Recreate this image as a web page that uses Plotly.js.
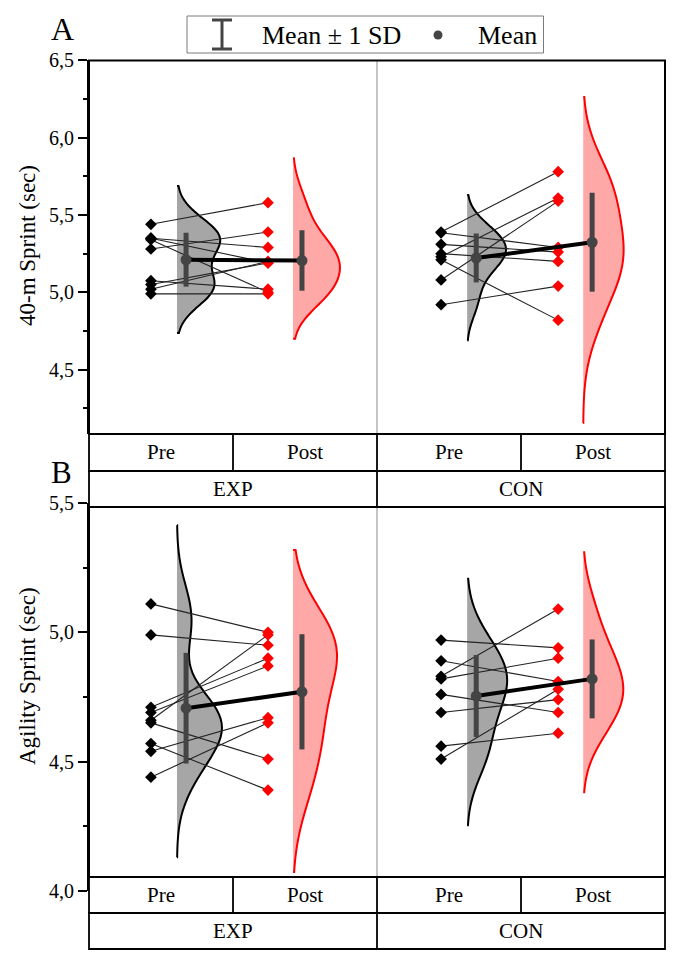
<!DOCTYPE html>
<html><head><meta charset="utf-8">
<script src="https://cdn.plot.ly/plotly-3.0.1.min.js"></script>
<style>html,body{margin:0;padding:0;background:#fff}#chart{width:685px;height:967px}</style>
</head><body><div id="chart"></div>
<script>
// ---------------- DATA ----------------
const groups = ['EXP', 'CON'];
const phases = ['Pre', 'Post'];
// Panel A: 40-m sprint (sec), paired by subject index
const sprintExpPre  = [5.44, 5.35, 5.35, 5.34, 5.28, 5.075, 5.05, 5.02, 4.99];
const sprintExpPost = [5.58, 5.29, 5.19, 5.00, 5.39, 5.02, 5.19, 5.20, 4.99];
const sprintConPre  = [5.39, 5.385, 5.31, 5.25, 5.23, 5.21, 5.08, 4.92];
const sprintConPost = [5.78, 5.29, 5.26, 5.20, 5.61, 4.82, 5.59, 5.04];
// Panel B: agility sprint (sec)
const agilityExpPre  = [5.11, 4.99, 4.71, 4.69, 4.66, 4.65, 4.57, 4.54, 4.44];
const agilityExpPost = [5.00, 4.95, 4.90, 4.87, 4.99, 4.51, 4.39, 4.67, 4.65];
const agilityConPre  = [4.97, 4.89, 4.83, 4.82, 4.76, 4.69, 4.56, 4.51];
const agilityConPost = [4.94, 4.81, 5.09, 4.90, 4.69, 4.74, 4.61, 4.78];
const panelLabels = ['A', 'B'];
const yTitles = ['40-m Sprint (sec)', 'Agility Sprint (sec)'];
const legendLabels = ['Mean \u00b1 1 SD', 'Mean'];

// ---------------- STYLE / GEOMETRY ----------------
const W = 685, H = 967;
const X = px => px / W;
const Y = py => 1 - py / H;
const FONT = "'Liberation Serif', 'Times New Roman', serif";
const preFill = 'rgb(166,166,166)', postFill = 'rgb(255,168,168)';
const meanColor = '#444444';
const groupOffset = [0, 2.015];
const slot = {preDot: 0.43, preViolin: 0.611, preMean: 0.674, postDot: 1.243, postViolin: 1.417, postMean: 1.479};
// violin widths (style) per panel/group/phase
const vWidths = [[[0.6, 0.65], [0.54, 0.56]], [[0.625, 0.61], [0.555, 0.555]]];
// KDE extents (visual style) per panel/group/phase
const spans = [
  [[[4.737, 5.687], [4.70, 5.867]], [[4.69, 5.629], [4.155, 6.263]]],
  [[[4.13, 5.414], [4.073, 5.318]], [[4.254, 5.207], [4.382, 5.31]]]
];
const panels = [
  {pre: [sprintExpPre, sprintConPre], post: [sprintExpPost, sprintConPost], xa: 'x', ya: 'y'},
  {pre: [agilityExpPre, agilityConPre], post: [agilityExpPost, agilityConPost], xa: 'x2', ya: 'y2'}
];

const mean = a => a.reduce((s, v) => s + v, 0) / a.length;
const sd = a => { const m = mean(a); return Math.sqrt(a.reduce((s, v) => s + (v - m) * (v - m), 0) / (a.length - 1)); };

const traces = [];
panels.forEach((p, pi) => {
  groups.forEach((g, gi) => {
    const off = groupOffset[gi];
    const pre = p.pre[gi], post = p.post[gi];
    // half violins
    [[pre, slot.preViolin, preFill, 'black', 0], [post, slot.postViolin, postFill, 'red', 1]].forEach(([d, pos, fc, lc, k]) => {
      traces.push({type: 'violin', xaxis: p.xa, yaxis: p.ya, x: d.map(() => pos + off), y: d,
        side: 'positive', width: vWidths[pi][gi][k], spanmode: 'manual', span: spans[pi][gi][k],
        points: false, fillcolor: fc, line: {color: lc, width: 2}, opacity: 1,
        scalemode: 'width', hoverinfo: 'skip', showlegend: false, box: {visible: false}, meanline: {visible: false}});
    });
    // paired lines
    const lx = [], ly = [];
    pre.forEach((v, i) => { lx.push(slot.preDot + off, slot.postDot + off, null); ly.push(v, post[i], null); });
    traces.push({type: 'scatter', mode: 'lines', xaxis: p.xa, yaxis: p.ya, x: lx, y: ly,
      line: {color: '#222', width: 1.1}, hoverinfo: 'skip', showlegend: false});
    traces.push({type: 'scatter', mode: 'markers', xaxis: p.xa, yaxis: p.ya, x: pre.map(() => slot.preDot + off), y: pre,
      marker: {symbol: 'diamond', size: 9, color: 'black'}, hoverinfo: 'skip', showlegend: false});
    traces.push({type: 'scatter', mode: 'markers', xaxis: p.xa, yaxis: p.ya, x: post.map(() => slot.postDot + off), y: post,
      marker: {symbol: 'diamond', size: 9, color: 'red'}, hoverinfo: 'skip', showlegend: false});
    // mean connector
    traces.push({type: 'scatter', mode: 'lines', xaxis: p.xa, yaxis: p.ya,
      x: [slot.preMean + off, slot.postMean + off], y: [mean(pre), mean(post)],
      line: {color: 'black', width: 4}, hoverinfo: 'skip', showlegend: false});
    // mean ± SD
    traces.push({type: 'scatter', mode: 'markers', xaxis: p.xa, yaxis: p.ya,
      x: [slot.preMean + off, slot.postMean + off], y: [mean(pre), mean(post)],
      error_y: {type: 'data', array: [sd(pre), sd(post)], visible: true, thickness: 5, width: 0, color: meanColor},
      marker: {symbol: 'circle', size: 11, color: meanColor}, hoverinfo: 'skip', showlegend: false});
  });
});

// ---------------- LAYOUT ----------------
const L = 89, R = 665, MID = 377, S1 = 233, S2 = 521;
const topFrame = [60.4, 434], botFrame = [507, 877];
const rows = [[434, 471, 507], [877, 913, 949]];
const shapes = [];
const rect = (x0, y0, x1, y1, c, w) => shapes.push({type: 'rect', xref: 'paper', yref: 'paper', x0: X(x0), x1: X(x1), y0: Y(y0), y1: Y(y1), line: {color: c, width: w}, layer: 'above'});
const seg = (x0, y0, x1, y1, c, w) => shapes.push({type: 'line', xref: 'paper', yref: 'paper', x0: X(x0), x1: X(x1), y0: Y(y0), y1: Y(y1), line: {color: c, width: w}, layer: 'above'});
// middle separators in plot areas
seg(MID, topFrame[0], MID, topFrame[1], '#8a8a8a', 1);
seg(MID, botFrame[0], MID, botFrame[1], '#8a8a8a', 1);
rect(L, topFrame[0], R, topFrame[1], 'black', 2);
rect(L, botFrame[0], R, botFrame[1], 'black', 2);
const annotations = [];
const txt = (t, x, y, size, extra) => annotations.push(Object.assign({text: t, xref: 'paper', yref: 'paper', x: X(x), y: Y(y), showarrow: false, xanchor: 'center', yanchor: 'middle', font: {family: FONT, size: size, color: 'black'}}, extra || {}));
rows.forEach(r => {
  rect(L, r[0], R, r[1], 'black', 1.8);
  rect(L, r[1], R, r[2], 'black', 1.8);
  seg(S1, r[0], S1, r[1], 'black', 1.8);
  seg(S2, r[0], S2, r[1], 'black', 1.8);
  seg(MID, r[0], MID, r[2], 'black', 1.8);
  const c1 = (r[0] + r[1]) / 2, c2 = (r[1] + r[2]) / 2;
  txt(phases[0], (L + S1) / 2, c1, 21); txt(phases[1], (S1 + MID) / 2, c1, 21);
  txt(phases[0], (MID + S2) / 2, c1, 21); txt(phases[1], (S2 + R) / 2, c1, 21);
  txt(groups[0], (L + MID) / 2, c2, 21); txt(groups[1], (MID + R) / 2, c2, 21);
});
// legend box
rect(187, 16, 543.5, 53, '#7a7a7a', 1);
seg(222, 20, 222, 49, meanColor, 3);
seg(212, 20, 232, 20, meanColor, 3);
seg(212, 49, 232, 49, meanColor, 3);
shapes.push({type: 'circle', xref: 'paper', yref: 'paper', x0: X(433.5), x1: X(442.5), y0: Y(30.5), y1: Y(39.5), fillcolor: meanColor, line: {color: meanColor, width: 0}, layer: 'above'});
txt(legendLabels[0], 260, 35, 26, {xanchor: 'left'});
txt(legendLabels[1], 476, 35, 26, {xanchor: 'left'});
// panel letters
txt(panelLabels[0], 63, 29, 32);
txt(panelLabels[1], 61, 472, 31);
// y titles
txt(yTitles[0], 27, 246, 23, {textangle: -90});
txt(yTitles[1], 27, 676, 23, {textangle: -90});

const yax = (dom, range) => ({domain: dom, range: range, anchor: 'x', showline: true, linecolor: 'black', linewidth: 2,
  ticks: 'outside', ticklen: 9, tickwidth: 2, tickcolor: 'black', dtick: 0.5, tick0: 0, tickformat: '.1f',
  minor: {ticks: 'outside', ticklen: 4, tickwidth: 2, tickcolor: 'black', dtick: 0.25, showgrid: false},
  showgrid: false, zeroline: false, tickfont: {family: FONT, size: 20, color: 'black'}, fixedrange: true});
const xax = (anchor) => ({domain: [X(L), X(R)], range: [0, 4], visible: false, anchor: anchor, fixedrange: true});

const layout = {
  width: W, height: H, margin: {l: 0, r: 0, t: 0, b: 0, pad: 0},
  paper_bgcolor: 'white', plot_bgcolor: 'rgba(0,0,0,0)', showlegend: false,
  separators: ',.', violinmode: 'overlay',
  xaxis: xax('y'), xaxis2: xax('y2'),
  yaxis: Object.assign(yax([Y(topFrame[1]), Y(topFrame[0])], [5 - (topFrame[1] - 292.3) / 154.6, 6.5]), {anchor: 'x'}),
  yaxis2: Object.assign(yax([Y(891), Y(503)], [4.0, 5.5]), {anchor: 'x2'}),
  shapes: shapes, annotations: annotations
};
Plotly.newPlot('chart', traces, layout, {displayModeBar: false, staticPlot: true});
</script></body></html>
